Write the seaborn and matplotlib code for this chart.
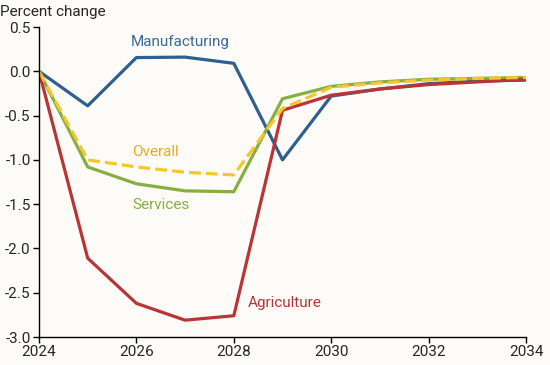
import pandas as pd
import matplotlib
matplotlib.use("Agg")
import matplotlib.pyplot as plt
import seaborn as sns

# === Data ===
years = list(range(2024, 2035))
manufacturing = [0.0, -0.39, 0.155, 0.16, 0.09, -1.0, -0.28, -0.20, -0.14, -0.11, -0.10]
overall = [0.0, -1.0, -1.08, -1.14, -1.17, -0.42, -0.18, -0.13, -0.10, -0.08, -0.07]
services = [0.0, -1.08, -1.27, -1.35, -1.36, -0.31, -0.17, -0.12, -0.09, -0.08, -0.07]
agriculture = [0.0, -2.11, -2.62, -2.81, -2.76, -0.44, -0.27, -0.20, -0.15, -0.12, -0.09]

bg = "#FCFBF7"
colores = {
    "Manufacturing": "#2D5F8F",
    "Agriculture": "#B83437",
    "Services": "#86AF3F",
    "Overall": "#F6C62B",
}

sns.set_style("ticks")
plt.rcParams["font.family"] = ["Roboto", "DejaVu Sans"]

fig = plt.figure(figsize=(5.5, 3.65), dpi=100, facecolor=bg)
ax = fig.add_axes([0.0709, 0.0767, 0.8855, 0.8493])
ax.set_facecolor(bg)

series = [
    ("Manufacturing", manufacturing, "-"),
    ("Services", services, "-"),
    ("Agriculture", agriculture, "-"),
    ("Overall", overall, "--"),
]
for nombre, valores, estilo in series:
    df = pd.DataFrame({"year": years, "value": valores})
    sns.lineplot(data=df, x="year", y="value", ax=ax, color=colores[nombre],
                 linewidth=2.3, linestyle=estilo, legend=False)

# etiquetas de series
ax.text(2026.9, 0.33, "Manufacturing", color="#3A6A99", fontsize=11, ha="center", va="center")
ax.text(2026.4, -0.91, "Overall", color="#EBAA1E", fontsize=11, ha="center", va="center")
ax.text(2026.5, -1.51, "Services", color="#86AF3F", fontsize=11, ha="center", va="center")
ax.text(2029.05, -2.62, "Agriculture", color="#B83437", fontsize=11, ha="center", va="center")

ax.set_xlim(2024, 2034)
ax.set_ylim(-3.0, 0.5)
ax.set_xticks([2024, 2026, 2028, 2030, 2032, 2034])
ax.set_yticks([0.5, 0.0, -0.5, -1.0, -1.5, -2.0, -2.5, -3.0])
ax.set_yticklabels(["0.5", "0.0", "-0.5", "-1.0", "-1.5", "-2.0", "-2.5", "-3.0"])
ax.set_xlabel("")
ax.set_ylabel("")
ax.tick_params(axis="both", labelsize=11, length=4, width=1, color="black", pad=2)
sns.despine(ax=ax)
for s in ["left", "bottom"]:
    ax.spines[s].set_linewidth(1)
    ax.spines[s].set_color("black")

fig.text(0.0, 1 - 12 / 365, "Percent change", fontsize=11, ha="left", va="center")

fig.savefig("out.png", dpi=100, facecolor=bg)
